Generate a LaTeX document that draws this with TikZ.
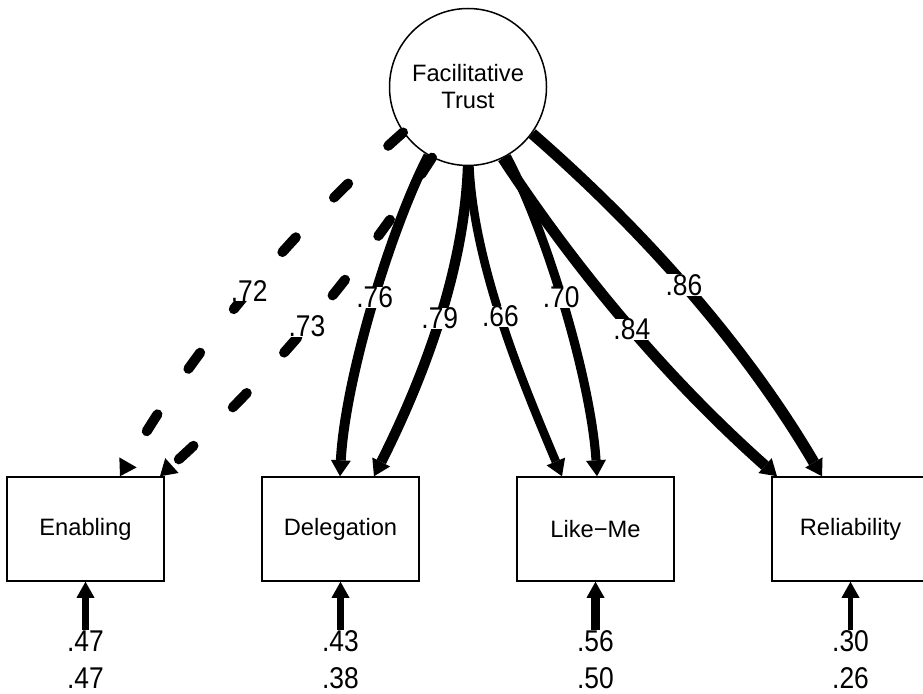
\documentclass[tikz,border=0pt]{standalone}
\usepackage{fontspec}
\setmainfont{Liberation Sans}
\newfontfamily\numfont[FakeStretch=0.88]{Liberation Sans}
\usetikzlibrary{arrows.meta}
\begin{document}
\begin{tikzpicture}[x=1pt,y=-1pt,
  box/.style={draw, line width=1.5pt, minimum width=157pt, minimum height=104pt, inner sep=0pt, font=\fontsize{23.7}{27}\selectfont},
  latent/.style={draw, circle, line width=1.5pt, minimum size=157pt, inner sep=0pt, align=center, font=\fontsize{23.7}{27}\selectfont},
  coef/.style={fill=white, inner sep=0pt, font=\numfont\fontsize{30}{32}\selectfont},
  errnum/.style={anchor=base, inner sep=0pt, font=\numfont\fontsize{30}{32}\selectfont},
  load/.style={line width=#1, -{Triangle[length=16pt,width=20pt,line width=0pt]}},
  dashload/.style={load=#1, dash pattern=on 20pt off 55pt, line cap=round},
  err/.style={line width=#1, -{Triangle[length=16pt,width=18pt,line width=0pt]}}
]
\useasboundingbox (0,0) rectangle (923,693);
\clip (0,0) rectangle (923,693);

\node[latent] (ft) at (468,87) {Facilitative\\Trust};
\node[box] (enab)  at (85.5,529)  {Enabling};
\node[box] (deleg) at (340.5,529) {Delegation};
\node[box] (like)  at (595.5,529) {Like−Me};
\node[box] (rel)   at (850.5,529) {Reliability};

% dashed loadings
\draw[dashload=10pt] (ft.215.4) .. controls (293,230) and (197,343) .. ([xshift=34.5pt]enab.north) node[coef,pos=.5] {.72};
\draw[dashload=10pt] (ft.243.1) .. controls (356,276) and (265,382) .. ([xshift=74.5pt]enab.north) node[coef,pos=.5] {.73};

% solid loadings
\draw[load=9.9pt]  (ft.240.7) .. controls (390,230) and (345,380) .. ([xshift=-0.5pt]deleg.north) node[coef,pos=.47] {.76};
\draw[load=10.3pt] (ft.270)   .. controls (464,275) and (420,385) .. ([xshift=33.5pt]deleg.north) node[coef,pos=.47] {.79};
\draw[load=8.6pt]  (ft.271.5) .. controls (474,270) and (528,395) .. ([xshift=-33.5pt]like.north) node[coef,pos=.46] {.66};
\draw[load=9.1pt]  (ft.299.3) .. controls (546,230) and (591,380) .. ([xshift=1.5pt]like.north) node[coef,pos=.47] {.70};
\draw[load=10.9pt] (ft.296.9) .. controls (580,276) and (671,382) .. ([xshift=-73.5pt]rel.north) node[coef,pos=.51] {.84};
\draw[load=11.2pt] (ft.324.6) .. controls (643,230) and (745,345) .. ([xshift=-28.5pt]rel.north) node[coef,pos=.48] {.86};

% error terms
\node[errnum] (r1) at (85.5,651)  {.47};
\node[errnum] (v1) at (85.5,688)  {.47};
\node[errnum] (r2) at (340.5,651) {.43};
\node[errnum] (v2) at (340.5,688) {.38};
\node[errnum] (r3) at (595.5,651) {.56};
\node[errnum] (v3) at (595.5,688) {.50};
\node[errnum] (r4) at (850.5,651) {.30};
\node[errnum] (v4) at (850.5,688) {.26};

\draw[err=7pt]   (r1.north) -- (enab.south);
\draw[err=6.5pt] (r2.north) -- (deleg.south);
\draw[err=8.4pt] (r3.north) -- (like.south);
\draw[err=4.5pt] (r4.north) -- (rel.south);
\end{tikzpicture}
\end{document}
